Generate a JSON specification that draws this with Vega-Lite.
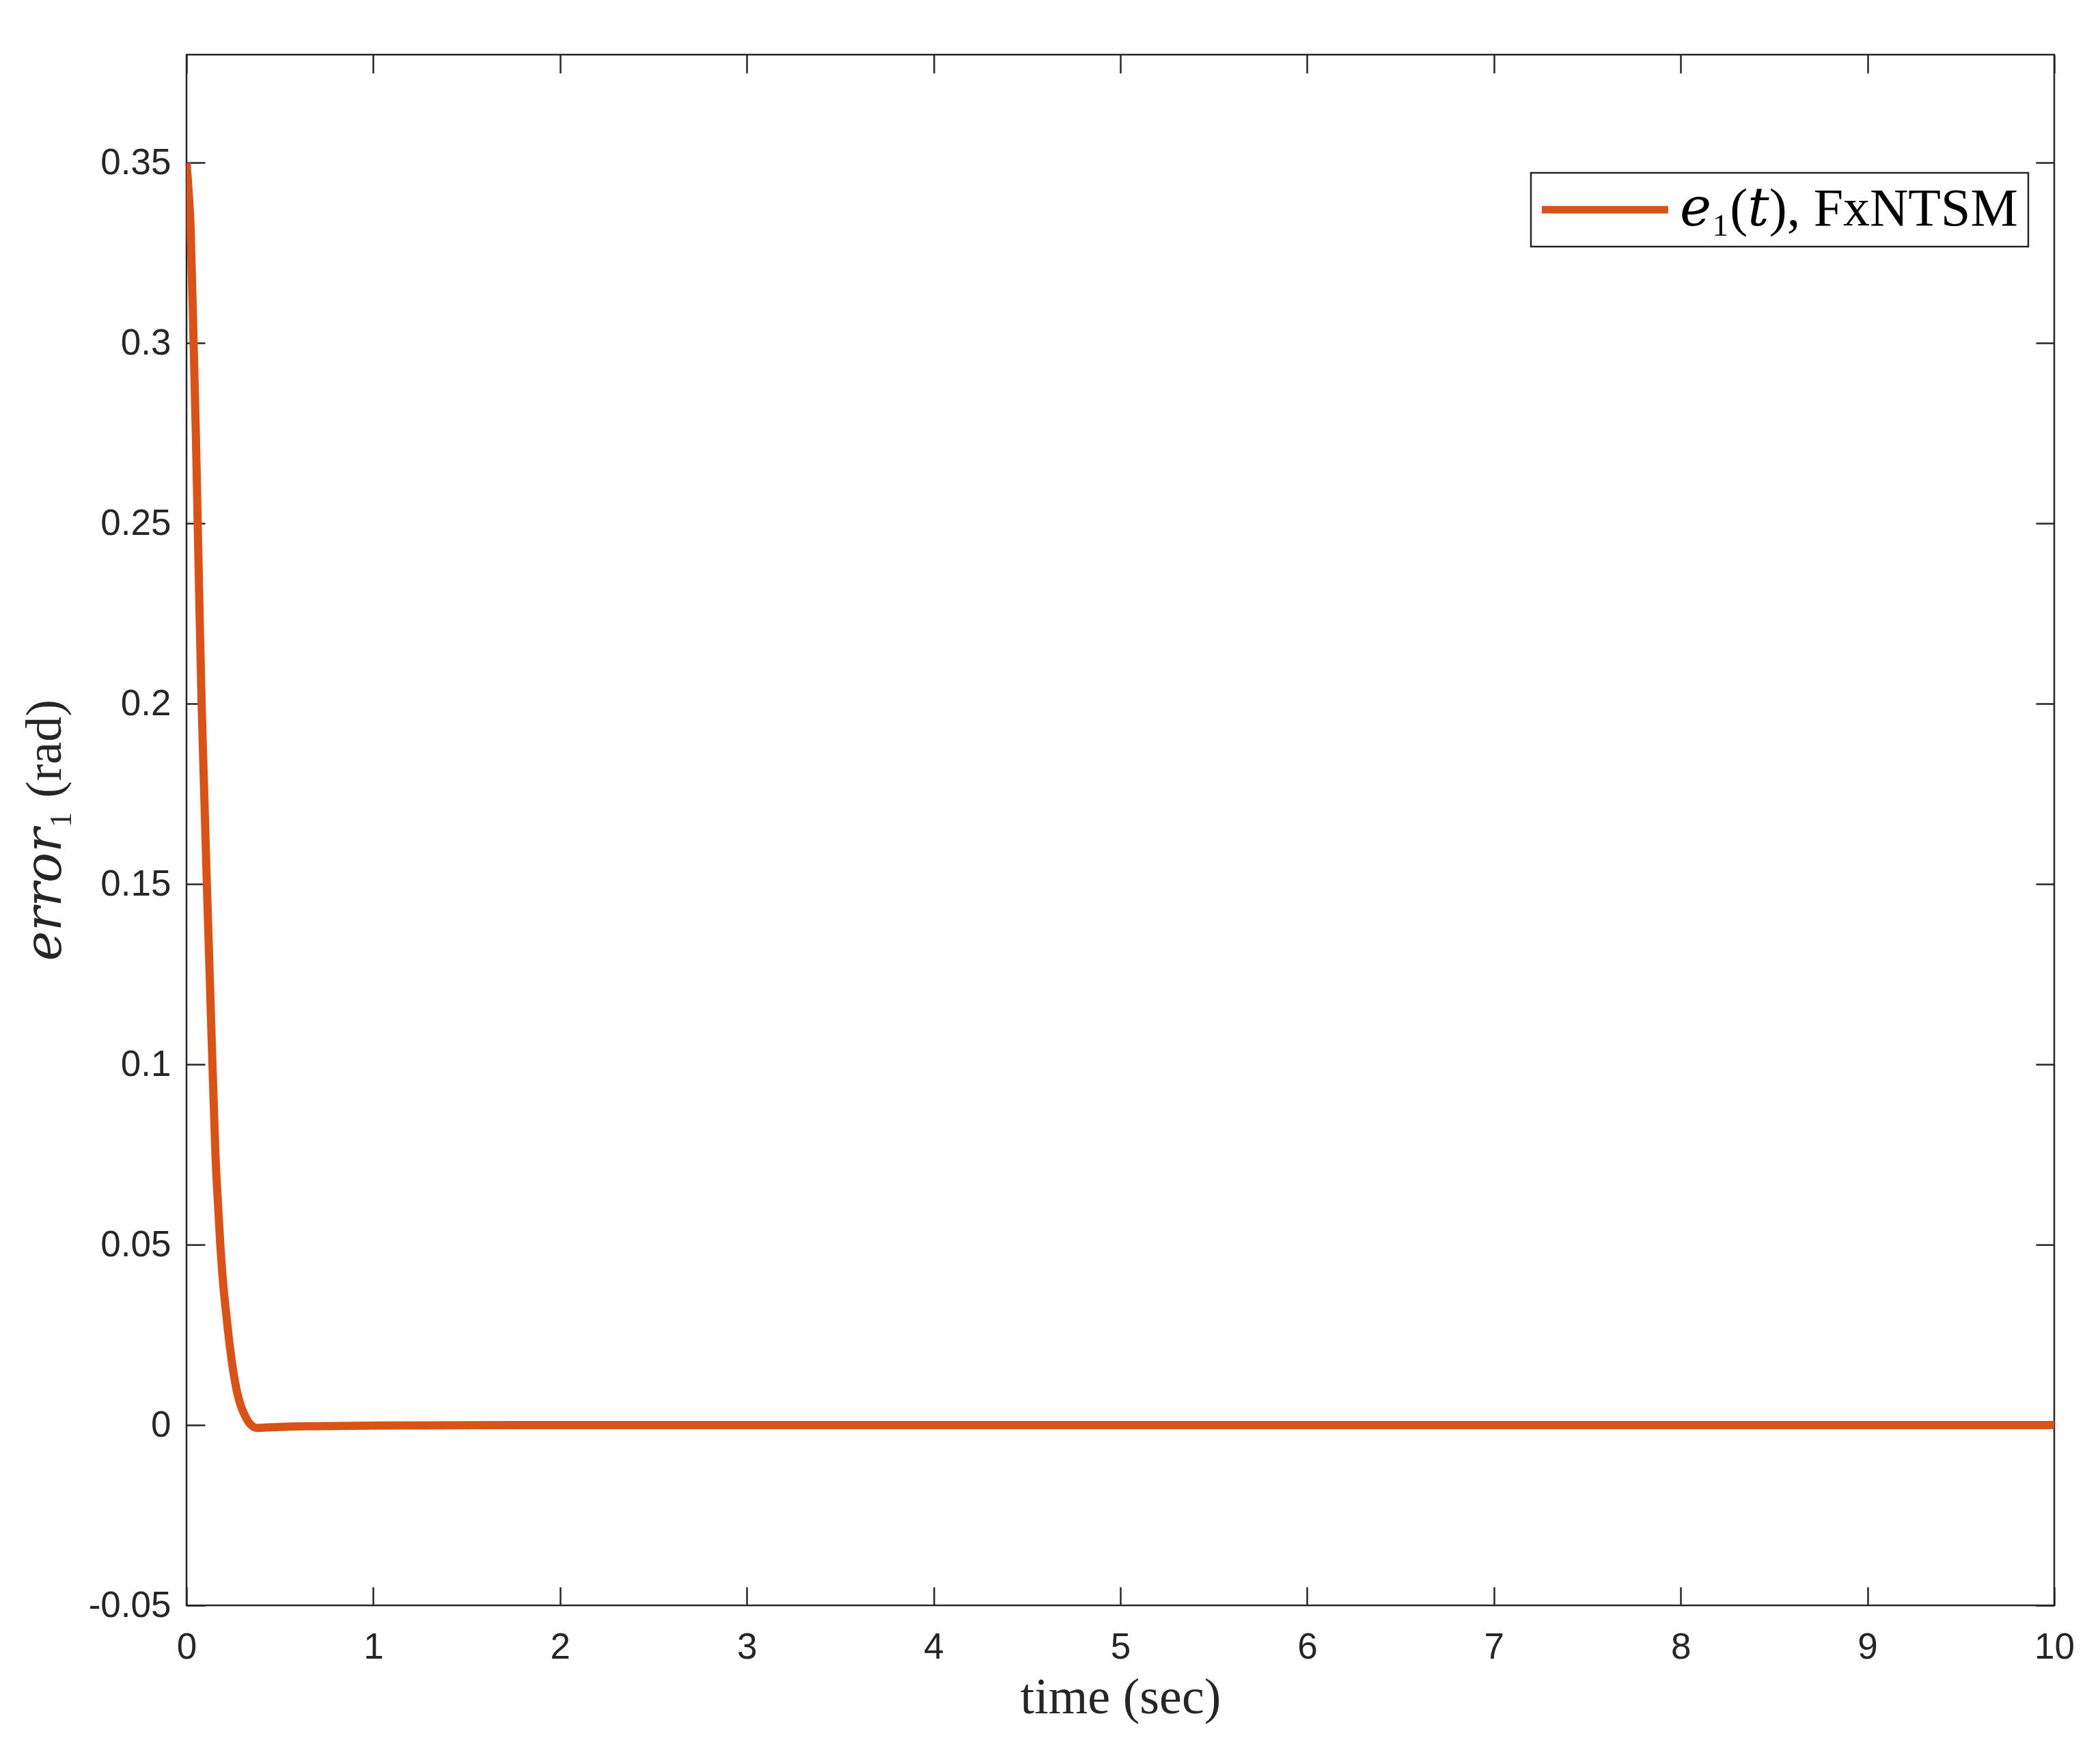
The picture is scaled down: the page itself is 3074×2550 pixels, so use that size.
{
  "$schema": "https://vega.github.io/schema/vega-lite/v6.json",
  "autosize": {"type": "none"},
  "padding": {"left": 273, "top": 80, "right": 67, "bottom": 200},
  "width": 2734,
  "height": 2270,
  "background": "white",
  "config": {
    "view": {"stroke": "#262626", "strokeWidth": 2.5},
    "axis": {
      "domain": false,
      "grid": false,
      "ticks": true,
      "tickColor": "#262626",
      "tickWidth": 2.5,
      "tickSize": -27,
      "labelFont": "Liberation Sans",
      "labelFontSize": 53,
      "labelColor": "#262626",
      "labelFlush": false,
      "labelOverlap": false,
      "labelBound": false,
      "titleFont": "Liberation Serif, DejaVu Serif",
      "titleFontSize": 74,
      "titleFontWeight": "normal",
      "titleColor": "#262626"
    },
    "legend": {
      "labelFont": "Liberation Serif, DejaVu Serif",
      "labelFontSize": 78,
      "labelColor": "#000000",
      "labelLimit": 2000
    }
  },
  "data": {
    "values": [
      {"t": 0, "e": 0.35, "series": "𝑒₁(𝑡), FxNTSM"},
      {"t": 0.01, "e": 0.343, "series": "𝑒₁(𝑡), FxNTSM"},
      {"t": 0.022, "e": 0.332, "series": "𝑒₁(𝑡), FxNTSM"},
      {"t": 0.038, "e": 0.3, "series": "𝑒₁(𝑡), FxNTSM"},
      {"t": 0.05, "e": 0.275, "series": "𝑒₁(𝑡), FxNTSM"},
      {"t": 0.06, "e": 0.25, "series": "𝑒₁(𝑡), FxNTSM"},
      {"t": 0.07, "e": 0.225, "series": "𝑒₁(𝑡), FxNTSM"},
      {"t": 0.081, "e": 0.2, "series": "𝑒₁(𝑡), FxNTSM"},
      {"t": 0.095, "e": 0.175, "series": "𝑒₁(𝑡), FxNTSM"},
      {"t": 0.109, "e": 0.15, "series": "𝑒₁(𝑡), FxNTSM"},
      {"t": 0.124, "e": 0.125, "series": "𝑒₁(𝑡), FxNTSM"},
      {"t": 0.139, "e": 0.1, "series": "𝑒₁(𝑡), FxNTSM"},
      {"t": 0.155, "e": 0.075, "series": "𝑒₁(𝑡), FxNTSM"},
      {"t": 0.17, "e": 0.06, "series": "𝑒₁(𝑡), FxNTSM"},
      {"t": 0.181, "e": 0.05, "series": "𝑒₁(𝑡), FxNTSM"},
      {"t": 0.195, "e": 0.04, "series": "𝑒₁(𝑡), FxNTSM"},
      {"t": 0.209, "e": 0.0325, "series": "𝑒₁(𝑡), FxNTSM"},
      {"t": 0.227, "e": 0.024, "series": "𝑒₁(𝑡), FxNTSM"},
      {"t": 0.245, "e": 0.0168, "series": "𝑒₁(𝑡), FxNTSM"},
      {"t": 0.26, "e": 0.012, "series": "𝑒₁(𝑡), FxNTSM"},
      {"t": 0.272, "e": 0.0089, "series": "𝑒₁(𝑡), FxNTSM"},
      {"t": 0.29, "e": 0.0055, "series": "𝑒₁(𝑡), FxNTSM"},
      {"t": 0.306, "e": 0.0034, "series": "𝑒₁(𝑡), FxNTSM"},
      {"t": 0.33, "e": 0.001, "series": "𝑒₁(𝑡), FxNTSM"},
      {"t": 0.355, "e": -0.0004, "series": "𝑒₁(𝑡), FxNTSM"},
      {"t": 0.373, "e": -0.0008, "series": "𝑒₁(𝑡), FxNTSM"},
      {"t": 0.42, "e": -0.0007, "series": "𝑒₁(𝑡), FxNTSM"},
      {"t": 0.5, "e": -0.0005, "series": "𝑒₁(𝑡), FxNTSM"},
      {"t": 0.7, "e": -0.0003, "series": "𝑒₁(𝑡), FxNTSM"},
      {"t": 1.0, "e": -0.00015, "series": "𝑒₁(𝑡), FxNTSM"},
      {"t": 1.5, "e": -0.00005, "series": "𝑒₁(𝑡), FxNTSM"},
      {"t": 2, "e": 0, "series": "𝑒₁(𝑡), FxNTSM"},
      {"t": 4, "e": 0, "series": "𝑒₁(𝑡), FxNTSM"},
      {"t": 6, "e": 0, "series": "𝑒₁(𝑡), FxNTSM"},
      {"t": 8, "e": 0, "series": "𝑒₁(𝑡), FxNTSM"},
      {"t": 10, "e": 0, "series": "𝑒₁(𝑡), FxNTSM"}
    ]
  },
  "layer": [
    {
      "mark": {"type": "line", "strokeWidth": 12, "interpolate": "monotone", "clip": true},
      "encoding": {
        "x": {
          "field": "t", "type": "quantitative",
          "scale": {"domain": [0, 10], "nice": false, "zero": false},
          "axis": {
            "orient": "bottom",
            "values": [0, 1, 2, 3, 4, 5, 6, 7, 8, 9, 10],
            "labelPadding": 62,
            "title": "time (sec)",
            "titleBaseline": "alphabetic",
            "titleY": 157
          }
        },
        "y": {
          "field": "e", "type": "quantitative",
          "scale": {"domain": [-0.05, 0.38], "nice": false, "zero": false},
          "axis": {
            "orient": "left",
            "values": [-0.05, 0, 0.05, 0.1, 0.15, 0.2, 0.25, 0.3, 0.35],
            "format": "~g",
            "labelExpr": "replace(datum.label, '−', '-')",
            "labelPadding": 50,
            "title": "𝑒𝑟𝑟𝑜𝑟₁ (rad)",
            "titleBaseline": "alphabetic",
            "titleX": -185
          }
        },
        "color": {
          "field": "series", "type": "nominal",
          "scale": {"range": ["#D95319"]},
          "legend": {
            "title": null,
            "orient": "none",
            "legendX": 1968,
            "legendY": 173,
            "padding": 15,
            "strokeColor": "#262626",
            "fillColor": "#ffffff",
            "symbolType": "M0,0H20",
            "symbolSize": 342,
            "symbolStrokeWidth": 11,
            "symbolOffset": -38,
            "labelOffset": 163,
            "encode": {"legend": {"update": {"strokeWidth": {"value": 2.5}}}}
          }
        }
      }
    },
    {
      "mark": {"type": "line", "strokeOpacity": 0},
      "encoding": {
        "x": {
          "field": "t", "type": "quantitative",
          "axis": {"orient": "top", "values": [0, 1, 2, 3, 4, 5, 6, 7, 8, 9, 10], "labels": false, "title": null}
        },
        "y": {
          "field": "e", "type": "quantitative",
          "axis": {"orient": "right", "values": [-0.05, 0, 0.05, 0.1, 0.15, 0.2, 0.25, 0.3, 0.35], "labels": false, "title": null}
        }
      }
    }
  ],
  "resolve": {"axis": {"x": "independent", "y": "independent"}}
}
